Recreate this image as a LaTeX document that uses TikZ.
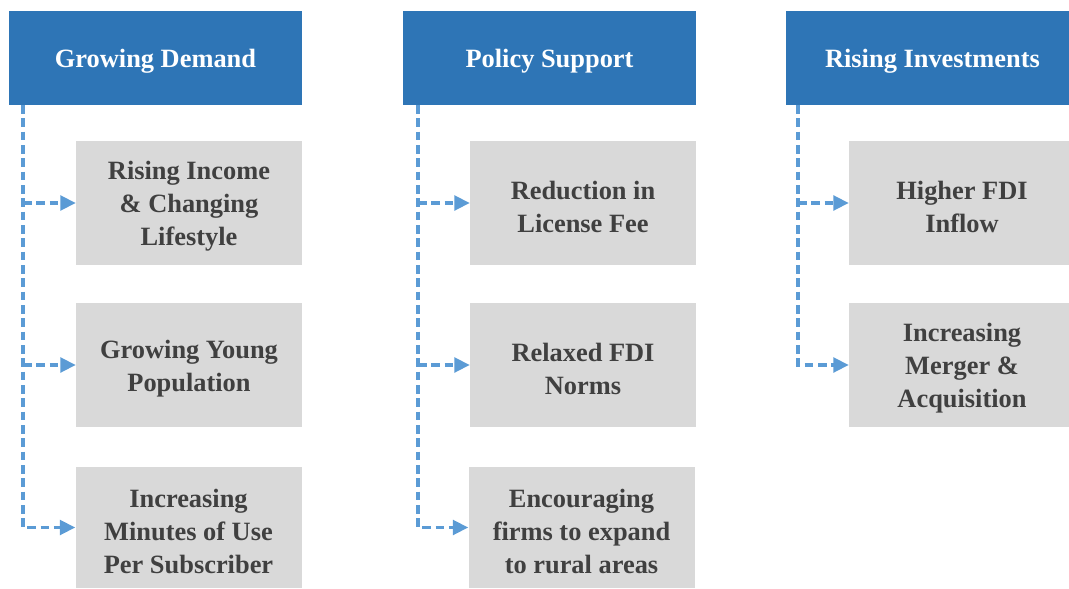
\documentclass[tikz,border=0pt]{standalone}
\usepackage{fontspec}
\setmainfont{Liberation Serif}
\usetikzlibrary{arrows.meta}

\definecolor{hdrblue}{HTML}{2E75B6}
\definecolor{boxgray}{HTML}{D9D9D9}
\definecolor{txtgray}{HTML}{404040}
\definecolor{linkblue}{HTML}{5B9BD5}

% taller first line, so that the labels sit a little lower in their boxes
\newcommand{\fstrut}{\rule{0pt}{19.2pt}}

\tikzset{
    hdr/.style={fill=hdrblue, text=white, inner sep=0pt, align=center,
        minimum width=219.75pt, minimum height=70.5pt},
    item/.style={fill=boxgray, text=txtgray, inner sep=0pt, align=center,
        minimum width=169.5pt, minimum height=93pt},
    link/.style={linkblue, line width=2.4pt, dash pattern=on 6.5pt off 3.5pt,
        -{Triangle[length=11.5pt,width=11pt]}}
}

\begin{document}
\begin{tikzpicture}[x=0.75pt, y=-0.75pt, font=\fontsize{19.8}{24.75}\selectfont\bfseries]
            \useasboundingbox (0,0) rectangle (1069,588);

            % headers
            \node[hdr] (gd) at (155.5,58) {\fstrut Growing Demand};
            \node[hdr] (ps) at (549.5,58) {\fstrut Policy Support};
            \node[hdr] (ri) at (932.5,58) {\fstrut Rising Investments};

            % growing demand
            \node[item] (gd1) at (189,203) {\fstrut Rising Income\\\& Changing\\Lifestyle};
            \node[item] (gd2) at (189,365) {\fstrut Growing Young\\Population};
            \node[item, minimum height=90.75pt] (gd3) at (188.5,527.5) {\fstrut Increasing\\Minutes of Use\\Per Subscriber};

            % policy support
            \node[item] (ps1) at (583,203) {\fstrut Reduction in\\License Fee};
            \node[item] (ps2) at (583,365) {\fstrut Relaxed FDI\\Norms};
            \node[item, minimum height=90.75pt] (ps3) at (581.5,527.5) {\fstrut Encouraging\\firms to expand\\to rural areas};

            % rising investments (cut off at the right edge)
            \node[item] (ri1) at (962,203) {\fstrut Higher FDI\\Inflow};
            \node[item] (ri2) at (962,365) {\fstrut Increasing\\Merger \&\\Acquisition};

            \coordinate (gdspine) at (23,105);
            \coordinate (psspine) at (418,105);
            \coordinate (rispine) at (798,105);

            \draw[link] (gdspine) |- (gd3.west);
            \draw[link] (gd1.west -| gdspine) -- (gd1.west);
            \draw[link] (gd2.west -| gdspine) -- (gd2.west);

            \draw[link] (psspine) |- (ps3.west);
            \draw[link] (ps1.west -| psspine) -- (ps1.west);
            \draw[link] (ps2.west -| psspine) -- (ps2.west);

            \draw[link] (rispine) |- (ri2.west);
            \draw[link] (ri1.west -| rispine) -- (ri1.west);
\end{tikzpicture}
\end{document}
